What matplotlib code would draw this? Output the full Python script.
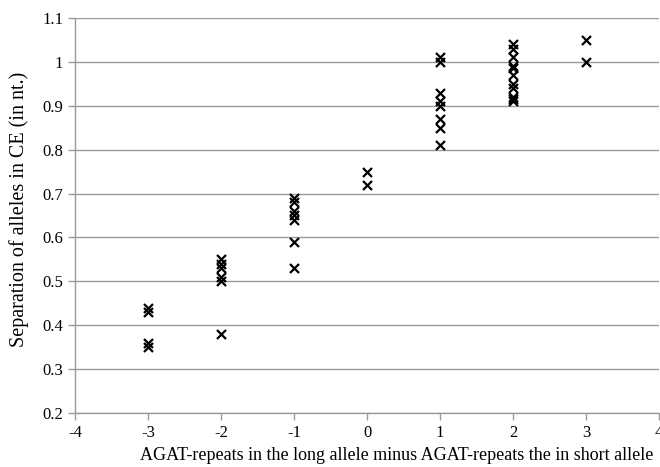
import matplotlib
matplotlib.use("Agg")
import matplotlib.pyplot as plt

plt.rcParams['font.family'] = ['Liberation Serif', 'DejaVu Serif']

x_m3 = [-3, -3, -3, -3]
y_m3 = [0.44, 0.43, 0.36, 0.35]
x_m2 = [-2, -2, -2, -2, -2, -2]
y_m2 = [0.55, 0.54, 0.53, 0.51, 0.50, 0.38]
x_m1 = [-1, -1, -1, -1, -1, -1, -1]
y_m1 = [0.69, 0.68, 0.66, 0.65, 0.64, 0.59, 0.53]
x_0 = [0, 0]
y_0 = [0.75, 0.72]
x_1 = [1, 1, 1, 1, 1, 1, 1, 1]
y_1 = [1.01, 1.00, 0.93, 0.91, 0.90, 0.87, 0.85, 0.81]
x_2 = [2, 2, 2, 2, 2, 2, 2, 2, 2, 2, 2]
y_2 = [1.04, 1.03, 1.01, 0.99, 0.985, 0.97, 0.95, 0.94, 0.92, 0.915, 0.91]
x_3 = [3, 3]
y_3 = [1.05, 1.00]

xs = x_m3 + x_m2 + x_m1 + x_0 + x_1 + x_2 + x_3
ys = y_m3 + y_m2 + y_m1 + y_0 + y_1 + y_2 + y_3

x_ticks = [-4, -3, -2, -1, 0, 1, 2, 3, 4]
y_ticks = [0.2, 0.3, 0.4, 0.5, 0.6, 0.7, 0.8, 0.9, 1.0, 1.1]
y_tick_labels = ['0.2', '0.3', '0.4', '0.5', '0.6', '0.7', '0.8', '0.9', '1', '1.1']

fig = plt.figure(figsize=(6.6, 4.67), dpi=100)
ax = fig.add_axes([0.1136, 0.1156, 0.885, 0.846])

ax.scatter(xs, ys, marker='x', s=42, c='black', linewidths=1.6, zorder=3, clip_on=False)

ax.set_xlim(-4, 4)
ax.set_ylim(0.2, 1.1)
ax.set_xticks(x_ticks)
ax.set_xticklabels([str(t) for t in x_ticks])
ax.set_yticks(y_ticks)
ax.set_yticklabels(y_tick_labels)

ax.grid(axis='y', color='#9a9a9a', linewidth=1.0)
ax.set_axisbelow(True)
for s in ['top', 'right']:
    ax.spines[s].set_visible(False)
for s in ['left', 'bottom']:
    ax.spines[s].set_color('#9a9a9a')
    ax.spines[s].set_linewidth(1.0)
ax.tick_params(axis='both', colors='#9a9a9a', labelcolor='black', labelsize=12,
               length=5, width=1.0, direction='out')

ax.set_xlabel('AGAT-repeats in the long allele minus AGAT-repeats the in short allele',
              fontsize=13, labelpad=6)
ax.xaxis.set_label_coords(0.55, -0.085)
ax.set_ylabel('Separation of alleles in CE (in nt.)', fontsize=14.5, labelpad=6)
ax.yaxis.set_label_coords(-0.078, 0.515)

fig.savefig('out.png', dpi=100)
